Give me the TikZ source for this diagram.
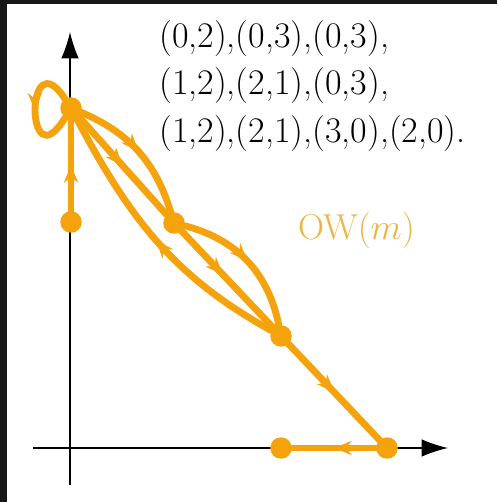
\documentclass[tikz,border=0pt]{standalone}
\usepackage{xcolor}
\usetikzlibrary{arrows.meta, decorations.markings}
\definecolor{owline}{RGB}{245,163,12}
\definecolor{owtext}{RGB}{236,180,64}
\definecolor{frame}{RGB}{24,24,24}
\tikzset{
  dot/.style      = {circle, fill=owline, inner sep=0pt, minimum size=0.43cm},
  walk/.style     = {draw, color=owline, line width=3.9pt, line cap=round},
  midarrow/.style = {postaction={decorate},
                     decoration={markings, mark=at position #1 with
                     {\arrow{Stealth[length=10pt,width=8pt]}}}},
  midarrow/.default = 0.5,
  axis/.style     = {-{Latex[length=15pt,width=10pt]}, line width=0.8pt},
  big/.style      = {font=\fontsize{20.5}{23}\selectfont, inner sep=0pt},
}

\begin{document}
\begin{tikzpicture}[x=0.02cm, y=0.02cm]
  % frame
  \fill[frame] (0,0) rectangle (497,502);
  \fill[white] (7,0) rectangle (497,498);
  \useasboundingbox (0,0) rectangle (497,502);
  % axes
  \coordinate (ybot) at (70,17);  \coordinate (ytop) at (70,470);
  \coordinate (xlft) at (33,54);  \coordinate (xrgt) at (448,54);
  \draw[axis] (ybot) -- (ytop);
  \draw[axis] (xlft) -- (xrgt);
  % states
  \node[dot] (a) at (71,280)  {};
  \node[dot] (b) at (71,394)  {};
  \node[dot] (c) at (174,279) {};
  \node[dot] (d) at (281,166) {};
  \node[dot] (e) at (387,54)  {};
  \node[dot] (f) at (281,54)  {};
  % walk
  \draw[walk, midarrow] (a) -- (b);
  \draw[walk, midarrow] (b) .. controls +(-46,70) and +(-46,-76) .. (b);
  \draw[walk, midarrow] (b) to[bend left=25] (c);
  \draw[walk, midarrow] (b) -- (c);
  \draw[walk, midarrow] (c) to[bend left=32] (d);
  \draw[walk, midarrow=0.45] (c) -- (d);
  \draw[walk, midarrow] (d) to[out=151, in=298] (b);
  \draw[walk, midarrow] (d) -- (e);
  \draw[walk, midarrow] (e) -- (f);
  % labels
  \node[big, anchor=north west, align=left] (seq) at (159,482)
        {(0,2),(0,3),(0,3),\\[4pt](1,2),(2,1),(0,3),\\[4pt](1,2),(2,1),(3,0),(2,0).};
  \node[big, anchor=base west, text=owtext] (ow) at (298,262) {OW$(m)$};
\end{tikzpicture}
\end{document}
